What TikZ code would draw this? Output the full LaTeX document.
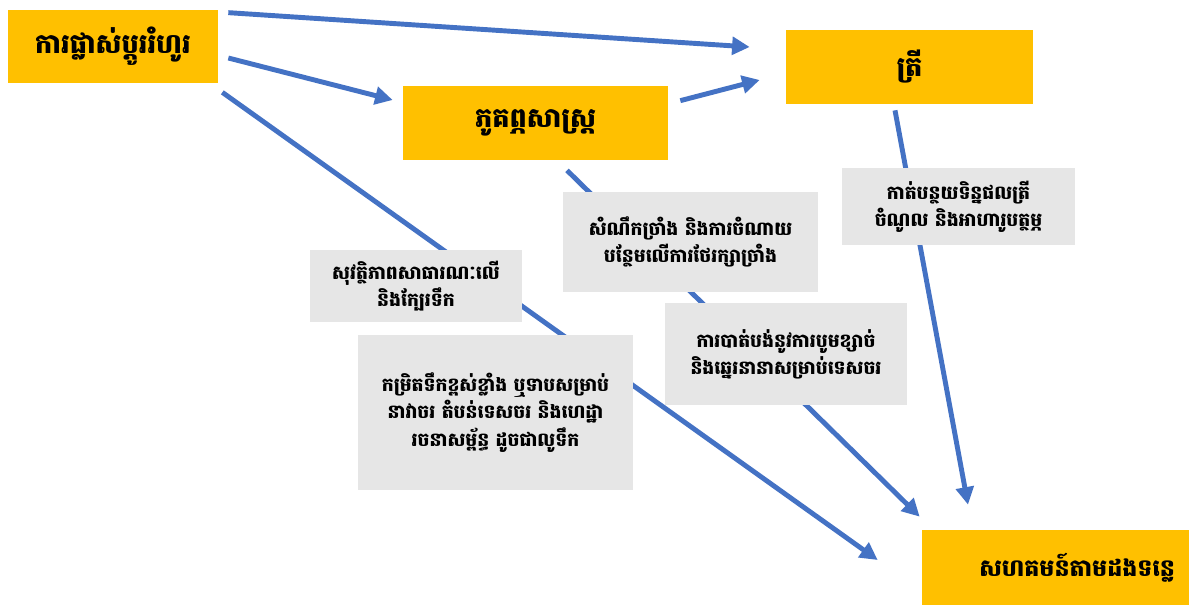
\documentclass[tikz,border=0pt]{standalone}
\usepackage{fontspec}
\newfontfamily\khmer[Script=Khmer]{Battambang}
\usepackage{xcolor}
\usetikzlibrary{positioning,arrows.meta}
\definecolor{boxgold}{HTML}{FFC000}
\definecolor{labelgrey}{HTML}{E6E6E6}
\definecolor{arrowblue}{HTML}{4472C4}

\begin{document}
\begin{tikzpicture}
[
x=0.02cm, y=-0.02cm,
box-a/.style={rectangle, fill=boxgold, inner sep=0pt, font=\khmer\bfseries\fontsize{15.5}{20}\selectfont},
box-b/.style={rectangle, fill=labelgrey, inner sep=0pt, align=center, font=\khmer\bfseries\fontsize{10.7}{15.5}\selectfont},
link-a/.style={draw=arrowblue, line width=2.8pt, -{Triangle[length=10pt, width=10pt]}}
]
\useasboundingbox (0,0) rectangle (1189,605);
% main boxes
\node (flow)      [box-a, minimum width=4.20cm, minimum height=1.46cm] at (113,46.5)    {ការផ្លាស់ប្តូររំហូរ};
\node (geo)       [box-a, minimum width=5.30cm, minimum height=1.48cm] at (535.5,123)   {ភូគព្ភសាស្ត្រ};
\node (fish)      [box-a, minimum width=4.94cm, minimum height=1.48cm] at (909.5,67)    {ត្រី};
\node (community) [box-a, text width=4.78cm, inner xsep=0.28cm, align=right,
                   font=\khmer\bfseries\fontsize{13.5}{18}\selectfont,
                   minimum height=1.50cm]                               at (1055.5,567.5) {សហគមន៍តាមដងទន្លេ};
% arrows
\draw [link-a] ([shift={(10,3)}]flow.north east)  -- ([shift={(-36,-20)}]fish.west);
\draw [link-a] ([shift={(10,11.5)}]flow.east)     -- ([shift={(-10,-23)}]geo.west);
\draw [link-a] ([shift={(4,9)}]flow.south east)   -- ([shift={(-44,-7.5)}]community.west);
\draw [link-a] ([shift={(12,15)}]geo.north east)  -- ([shift={(-26,13)}]fish.west);
\draw [link-a] ([shift={(31.5,10)}]geo.south)     -- ([shift={(-2,-13)}]community.north west);
\draw [link-a] ([shift={(-14.5,6)}]fish.south)    -- ([shift={(-87.5,-25)}]community.north);
% labels on top of the arrows
\node (erosion)  [box-b, minimum width=5.10cm, minimum height=2.00cm] at (690.5,242)   {សំណឹកច្រាំង និងការចំណាយ\\បន្ថែមលើការថែរក្សាច្រាំង};
\node (yield)    [box-b, minimum width=4.66cm, minimum height=1.54cm] at (958.5,206.5) {កាត់បន្ថយទិន្នផលត្រី\\ចំណូល និងអាហារូបត្ថម្ភ};
\node (safety)   [box-b, minimum width=4.24cm, minimum height=1.44cm] at (416,286)     {សុវត្ថិភាពសាធារណៈលើ\\និងក្បែរទឹក};
\node (level)    [box-b, minimum width=5.50cm, minimum height=3.10cm] at (495.5,412.5) {កម្រិតទឹកខ្ពស់ខ្លាំង ឬទាបសម្រាប់\\នាវាចរ តំបន់ទេសចរ និងហេដ្ឋា\\រចនាសម្ព័ន្ធ ដូចជាលូទឹក};
\node (sand)     [box-b, minimum width=4.84cm, minimum height=2.04cm] at (786,354)     {ការបាត់បង់នូវការបូមខ្សាច់\\និងឆ្នេរនានាសម្រាប់ទេសចរ};
\end{tikzpicture}
\end{document}
